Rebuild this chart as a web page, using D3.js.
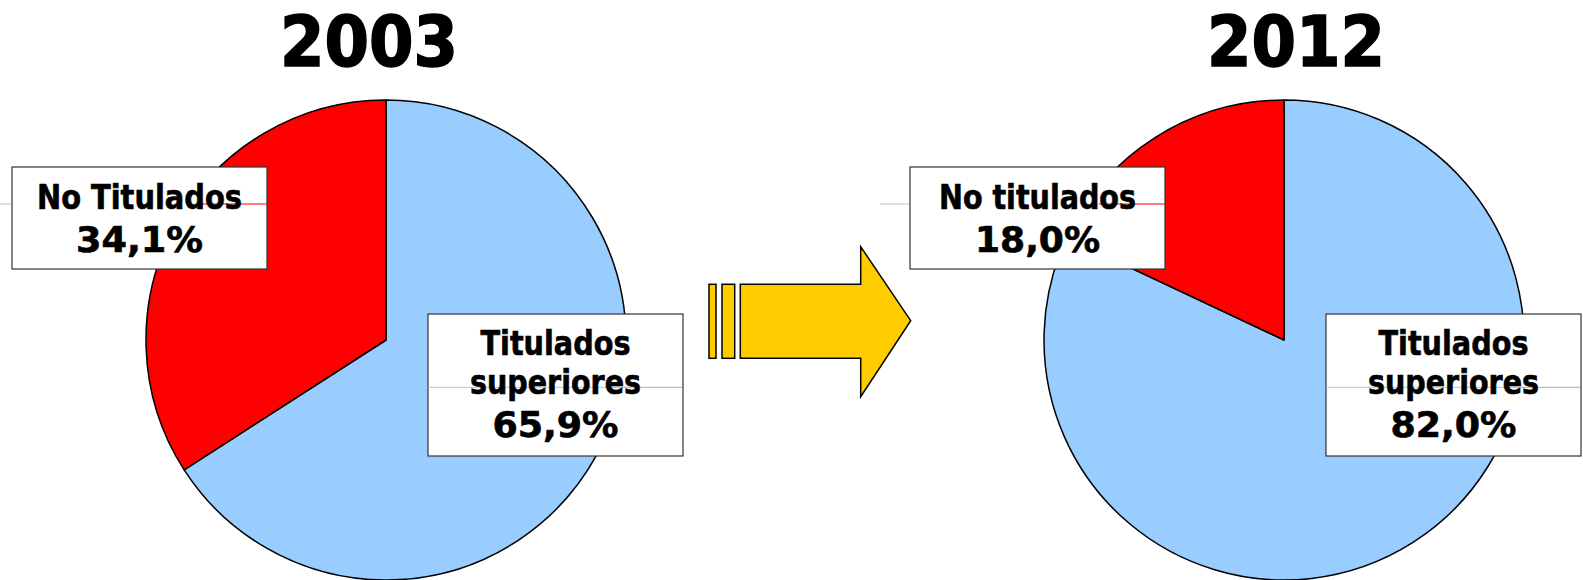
<!DOCTYPE html>
<html>
<head>
<meta charset="utf-8">
<script src="https://cdn.jsdelivr.net/npm/d3@7"></script>
<style>
  html, body { margin: 0; padding: 0; background: #fff; }
  svg { display: block; font-family: "DejaVu Sans Condensed", "DejaVu Sans", Verdana, sans-serif; font-weight: bold; }
</style>
</head>
<body>
<svg id="chart" width="1583" height="580"></svg>
<script>
// Share of graduates vs. non-graduates, two survey years
const years = ["2003", "2012"];
const categories = ["Titulados superiores", "No titulados"];
const labels2003 = [["Titulados", "superiores"], ["No Titulados"]];
const labels2012 = [["Titulados", "superiores"], ["No titulados"]];
const values2003 = [65.9, 34.1];
const values2012 = [82.0, 18.0];

const datasets = [
  { year: years[0], values: values2003, labels: labels2003, cx: 386, titleX: 369 },
  { year: years[1], values: values2012, labels: labels2012, cx: 1284, titleX: 1296 }
];

const svg = d3.select("#chart");
const cy = 340, radius = 240;

const color = d3.scaleOrdinal().domain(categories).range(["#99CCFF", "#FF0000"]);
const pie = d3.pie().sort(null).value(d => d.value);
const arc = d3.arc().innerRadius(0).outerRadius(radius);
const fmt = v => d3.format(".1f")(v).replace(".", ",") + "%";

// rendered width of each label line, keyed by its text
const lineWidths = {
  "Titulados": 150, "superiores": 171, "No Titulados": 205, "No titulados": 197,
  "34,1%": 127, "65,9%": 126, "18,0%": 125, "82,0%": 126
};

// label boxes placed relative to each pie's centre
const boxes = [
  { x: 42, y: -26, w: 255, h: 142, lineY: 47.3, lineColor: "#99CCFF", lineEnd: 221, lines: [15, 54.3, 96.7] },
  { x: -374, y: -173, w: 255, h: 102, lineY: -136, lineColor: "#FF0000", lineStart: 189, lines: [-130.7, -88.3] }
];

datasets.forEach(ds => {
  const rows = categories.map((c, i) => ({ cat: c, value: ds.values[i], label: ds.labels[i] }));
  const g = svg.append("g").attr("transform", `translate(${ds.cx},${cy})`);

  g.selectAll("path.slice")
    .data(pie(rows))
    .join("path")
    .attr("class", "slice")
    .attr("d", arc)
    .attr("fill", d => color(d.data.cat))
    .attr("stroke", "#000")
    .attr("stroke-width", 1.5)
    .attr("stroke-linejoin", "round");

  rows.forEach((r, i) => {
    const b = boxes[i];
    const lg = g.append("g");
    lg.append("rect")
      .attr("x", b.x).attr("y", b.y).attr("width", b.w).attr("height", b.h)
      .attr("fill", "#fff").attr("stroke", "#333").attr("stroke-width", 1.2);
    // leader lines
    if (i === 0) {
      lg.append("line").attr("x1", b.x).attr("x2", b.x + b.lineEnd - 42)
        .attr("y1", b.lineY).attr("y2", b.lineY)
        .attr("stroke", b.lineColor).attr("stroke-width", 1);
      lg.append("line").attr("x1", b.x + b.lineEnd - 42).attr("x2", b.x + b.w)
        .attr("y1", b.lineY).attr("y2", b.lineY)
        .attr("stroke", "#777").attr("stroke-width", 0.6);
    } else {
      lg.append("line").attr("x1", b.x + b.lineStart).attr("x2", b.x + b.w)
        .attr("y1", b.lineY).attr("y2", b.lineY)
        .attr("stroke", b.lineColor).attr("stroke-width", 1);
      lg.append("line").attr("x1", b.x - 30).attr("x2", b.x)
        .attr("y1", b.lineY).attr("y2", b.lineY)
        .attr("stroke", "#999").attr("stroke-width", 0.6);
    }
    const txt = r.label.concat([fmt(r.value)]);
    lg.selectAll("text")
      .data(txt)
      .join("text")
      .attr("x", b.x + b.w / 2)
      .attr("y", (d, k) => b.lines[k])
      .attr("text-anchor", "middle")
      .attr("font-size", (d, k) => k === txt.length - 1 ? 35 : 33)
      .attr("textLength", d => lineWidths[d])
      .attr("lengthAdjust", "spacingAndGlyphs")
      .attr("fill", "#000")
      .attr("stroke", "#000")
      .attr("stroke-width", 0.6)
      .text(d => d);
  });

  svg.append("text")
    .attr("x", ds.titleX)
    .attr("y", 66)
    .attr("text-anchor", "middle")
    .attr("font-size", 70)
    .attr("textLength", 178)
    .attr("lengthAdjust", "spacingAndGlyphs")
    .attr("fill", "#000")
    .attr("stroke", "#000")
    .attr("stroke-width", 1.5)
    .text(ds.year);
});

// block arrow between the two pies
const arrow = svg.append("g").attr("fill", "#FFCC00").attr("stroke", "#000").attr("stroke-width", 1.5)
  .attr("stroke-linejoin", "miter");
arrow.append("rect").attr("x", 709).attr("y", 284.3).attr("width", 7).attr("height", 74);
arrow.append("rect").attr("x", 722).attr("y", 284.3).attr("width", 12.7).attr("height", 74);
arrow.append("path").attr("d", d3.line()([
  [740.3, 284.3], [860.7, 284.3], [860.7, 246.7], [910.7, 320.7],
  [860.7, 396.7], [860.7, 358.3], [740.3, 358.3]
]) + "Z");
</script>
</body>
</html>
